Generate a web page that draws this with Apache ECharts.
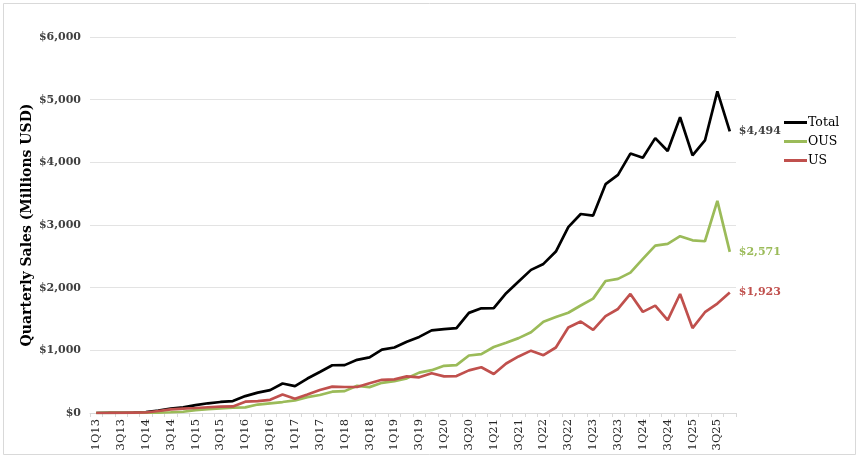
<!DOCTYPE html>
<html>
<head>
<meta charset="utf-8">
<script src="https://cdn.jsdelivr.net/npm/echarts@6/dist/echarts.min.js"></script>
<style>
html,body{margin:0;padding:0;background:#fff;}
#chart{width:860px;height:459px;}
</style>
</head>
<body>
<div id="chart"></div>
<script>
const categories = [
  '1Q13','2Q13','3Q13','4Q13','1Q14','2Q14','3Q14','4Q14','1Q15','2Q15','3Q15','4Q15',
  '1Q16','2Q16','3Q16','4Q16','1Q17','2Q17','3Q17','4Q17','1Q18','2Q18','3Q18','4Q18',
  '1Q19','2Q19','3Q19','4Q19','1Q20','2Q20','3Q20','4Q20','1Q21','2Q21','3Q21','4Q21',
  '1Q22','2Q22','3Q22','4Q22','1Q23','2Q23','3Q23','4Q23','1Q24','2Q24','3Q24','4Q24',
  '1Q25','2Q25','3Q25','4Q25'
];
const totalSales = [
  0, 2, 4, 8, 15, 37, 70, 90, 125, 155, 176, 190,
  270, 325, 365, 470, 430, 550, 655, 762, 764, 848, 888, 1012,
  1045, 1138, 1214, 1318, 1338, 1354, 1598, 1670, 1675, 1912, 2098, 2284,
  2379, 2576, 2965, 3176, 3150, 3652, 3800, 4140, 4074, 4386, 4180, 4720,
  4111, 4349, 5132, 4494
];
const ousSales = [
  0, 1, 1, 2, 7, 5, 12, 20, 45, 63, 74, 85,
  90, 135, 155, 175, 202, 254, 287, 340, 349, 433, 413, 482,
  508, 553, 644, 683, 753, 764, 918, 940, 1053, 1122, 1195, 1289,
  1457, 1531, 1600, 1716, 1825, 2107, 2140, 2240, 2460, 2672, 2698, 2821,
  2756, 2741, 3386, 2571
];
const usSales = [
  0, 1, 3, 6, 8, 32, 58, 70, 80, 92, 102, 105,
  180, 190, 210, 295, 228, 296, 368, 420, 415, 415, 475, 530,
  537, 585, 570, 635, 585, 590, 680, 730, 622, 790, 903, 995,
  922, 1045, 1365, 1460, 1325, 1545, 1660, 1900, 1614, 1714, 1482, 1899,
  1355, 1608, 1746, 1923
];
const yTicks = [0, 1000, 2000, 3000, 4000, 5000, 6000];

const serif = 'DejaVu Serif';
function money(v){ return '$' + Math.round(v).toLocaleString('en-US'); }

const chart = echarts.init(document.getElementById('chart'), null, {renderer:'canvas'});

function lineSeries(name, data, color, labelColor){
  return {
    name: name,
    type: 'line',
    data: data,
    showSymbol: false,
    symbol: 'none',
    lineStyle: {width: 2.7, color: color},
    itemStyle: {color: color},
    emphasis: {disabled: true},
    endLabel: {
      show: true,
      formatter: p => money(p.value),
      color: labelColor,
      fontFamily: serif,
      fontWeight: 'bold',
      fontSize: 11,
      distance: 9
    }
  };
}

chart.setOption({
  animation: false,
  backgroundColor: '#fff',
  graphic: [{
    type: 'rect',
    shape: {x: 3.5, y: 3.5, width: 852, height: 451},
    style: {fill: 'none', stroke: '#d9d9d9', lineWidth: 1},
    silent: true
  }],
  grid: {left: 90, right: 124, top: 37, bottom: 46},
  legend: {
    orient: 'vertical',
    left: 779,
    top: 111,
    itemWidth: 23,
    itemHeight: 3,
    itemGap: 6,
    icon: 'rect',
    data: ['Total', 'OUS', 'US'],
    textStyle: {fontFamily: serif, fontSize: 12.5, color: '#000', padding: [0,0,0,-4]}
  },
  xAxis: {
    type: 'category',
    data: categories,
    boundaryGap: true,
    axisLine: {lineStyle: {color: '#d9d9d9', width: 1}},
    axisTick: {show: true, interval: 0, length: 4, lineStyle: {color: '#d9d9d9'}},
    axisLabel: {
      interval: 1,
      rotate: 90,
      fontFamily: serif,
      fontSize: 11.5,
      color: '#262626',
      margin: 6
    }
  },
  yAxis: {
    type: 'value',
    min: yTicks[0],
    max: yTicks[yTicks.length - 1],
    interval: 1000,
    name: 'Quarterly Sales (Millions USD)',
    nameLocation: 'middle',
    nameGap: 56,
    nameMoveOverlap: false,
    nameTextStyle: {fontFamily: serif, fontSize: 14, fontWeight: 'bold', color: '#000'},
    axisLine: {show: false},
    axisTick: {show: false},
    splitLine: {lineStyle: {color: '#e3e3e3', width: 1}},
    axisLabel: {
      formatter: v => money(v),
      fontFamily: serif,
      fontWeight: 'bold',
      fontSize: 11,
      color: '#404040',
      margin: 9
    }
  },
  series: [
    lineSeries('Total', totalSales, '#000000', '#404040'),
    lineSeries('OUS', ousSales, '#9BBB59', '#9BBB59'),
    lineSeries('US', usSales, '#C0504D', '#C0504D')
  ]
});
</script>
</body>
</html>
